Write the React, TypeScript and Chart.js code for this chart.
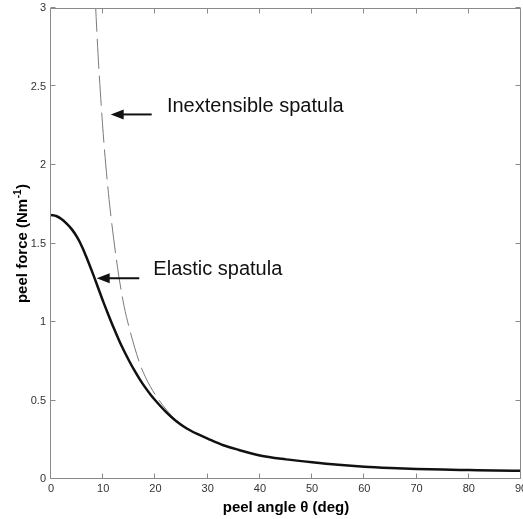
import React, { useEffect, useRef } from "react";
import { Chart, registerables } from "chart.js";

Chart.register(...registerables);

// ---- data ----
const elasticAngles = [0, 1, 2, 3, 4, 5, 6, 7, 8, 9, 10, 11, 12, 13, 14, 15, 16, 17, 18, 19, 20, 22, 24, 26, 28, 30, 33, 36, 40, 45, 50, 55, 60, 65, 70, 75, 80, 85, 90];
const elasticForce = [1.682, 1.675, 1.656, 1.627, 1.59, 1.54, 1.475, 1.395, 1.31, 1.22, 1.13, 1.045, 0.963, 0.886, 0.815, 0.75, 0.69, 0.635, 0.585, 0.54, 0.5, 0.428, 0.368, 0.322, 0.287, 0.257, 0.215, 0.185, 0.15, 0.125, 0.106, 0.09, 0.078, 0.07, 0.064, 0.06, 0.057, 0.054, 0.053];

const inextAngles = [8.5, 9, 10, 11, 12, 13, 14, 15, 16, 17, 18, 19, 20, 22, 24, 26, 28, 30];
const inextForce = [3.04, 2.71, 2.2, 1.82, 1.53, 1.29, 1.1, 0.96, 0.84, 0.735, 0.655, 0.59, 0.535, 0.445, 0.374, 0.323, 0.287, 0.256];

const xTicks = [0, 10, 20, 30, 40, 50, 60, 70, 80, 90];
const yTicks = [0, 0.5, 1, 1.5, 2, 2.5, 3];

const xTitle = "peel angle θ (deg)";
const yTitleMain = "peel force (Nm";
const yTitleSup = "-1";
const yTitleEnd = ")";

// annotations: [textX, textBaselineY, arrowStartX, arrowTipX, arrowY]
const inextLabel = "Inextensible spatula";
const inextLabelPos = [22.2, 2.335, 19.28, 11.43, 2.322];
const elasticLabel = "Elastic spatula";
const elasticLabelPos = [19.6, 1.3, 16.9, 8.75, 1.278];

const FONT = "'Liberation Sans', Arial, Helvetica, sans-serif";

const decorPlugin = {
  id: "decor",
  afterDatasetsDraw(chart: any) {
    const { ctx, chartArea: a, scales } = chart;
    const x = scales.x;
    const y = scales.y;
    ctx.save();
    // box
    ctx.strokeStyle = "#8a8a8a";
    ctx.lineWidth = 1;
    const L = Math.round(a.left) - 0.5;
    const R = Math.round(a.right) - 0.5;
    const T = Math.round(a.top) + 0.5;
    const B = Math.round(a.bottom) - 0.5;
    ctx.beginPath();
    ctx.rect(L, T, R - L, B - T);
    ctx.stroke();
    // inward ticks
    const tl = 5;
    ctx.beginPath();
    xTicks.forEach((v) => {
      const px = Math.round(x.getPixelForValue(v)) - 0.5;
      ctx.moveTo(px, B);
      ctx.lineTo(px, B - tl);
      ctx.moveTo(px, T);
      ctx.lineTo(px, T + tl);
    });
    yTicks.forEach((v) => {
      const py = Math.round(y.getPixelForValue(v)) - 0.5;
      ctx.moveTo(L, py);
      ctx.lineTo(L + tl, py);
      ctx.moveTo(R, py);
      ctx.lineTo(R - tl, py);
    });
    ctx.stroke();

    // annotations
    const drawAnn = (text: string, p: number[]) => {
      const tx = x.getPixelForValue(p[0]);
      const ty = y.getPixelForValue(p[1]);
      const ax1 = x.getPixelForValue(p[2]);
      const ax2 = x.getPixelForValue(p[3]);
      const ay = y.getPixelForValue(p[4]);
      ctx.fillStyle = "#111";
      ctx.font = `20px ${FONT}`;
      ctx.textAlign = "left";
      ctx.textBaseline = "alphabetic";
      ctx.fillText(text, tx, ty);
      ctx.strokeStyle = "#111";
      ctx.lineWidth = 2;
      ctx.beginPath();
      ctx.moveTo(ax1, ay);
      ctx.lineTo(ax2 + 10, ay);
      ctx.stroke();
      ctx.beginPath();
      ctx.moveTo(ax2, ay);
      ctx.lineTo(ax2 + 13, ay - 5);
      ctx.lineTo(ax2 + 13, ay + 5);
      ctx.closePath();
      ctx.fill();
    };
    drawAnn(inextLabel, inextLabelPos);
    drawAnn(elasticLabel, elasticLabelPos);

    // axis titles
    ctx.fillStyle = "#000";
    ctx.font = `bold 15px ${FONT}`;
    ctx.textAlign = "center";
    ctx.textBaseline = "alphabetic";
    ctx.fillText(xTitle, (a.left + a.right) / 2, 512);

    // y title, rotated, with superscript
    ctx.translate(27, (a.top + a.bottom) / 2);
    ctx.rotate(-Math.PI / 2);
    const mainFont = `bold 15px ${FONT}`;
    const supFont = `bold 10px ${FONT}`;
    ctx.font = mainFont;
    const w1 = ctx.measureText(yTitleMain).width;
    const w3 = ctx.measureText(yTitleEnd).width;
    ctx.font = supFont;
    const w2 = ctx.measureText(yTitleSup).width + 1;
    const total = w1 + w2 + w3;
    let cx = -total / 2;
    ctx.textAlign = "left";
    ctx.font = mainFont;
    ctx.fillText(yTitleMain, cx, 0);
    cx += w1;
    ctx.font = supFont;
    ctx.fillText(yTitleSup, cx + 0.5, -6);
    cx += w2;
    ctx.font = mainFont;
    ctx.fillText(yTitleEnd, cx, 0);
    ctx.restore();
  },
};

export default function App() {
  const ref = useRef<HTMLCanvasElement | null>(null);
  useEffect(() => {
    document.body.style.margin = "0";
    const canvas = ref.current;
    if (!canvas) return;
    const chart = new Chart(canvas, {
      type: "line",
      data: {
        datasets: [
          {
            label: "Elastic spatula",
            data: elasticAngles.map((a, i) => ({ x: a, y: elasticForce[i] })),
            borderColor: "#111",
            borderWidth: 2.5,
            pointRadius: 0,
            cubicInterpolationMode: "monotone",
            fill: false,
            order: 1,
          },
          {
            label: "Inextensible spatula",
            data: inextAngles.map((a, i) => ({ x: a, y: inextForce[i] })),
            borderColor: "#7a7a7a",
            borderWidth: 1,
            borderDash: [30, 7],
            pointRadius: 0,
            cubicInterpolationMode: "monotone",
            fill: false,
            order: 2,
          },
        ],
      },
      options: {
        animation: false,
        responsive: false,
        maintainAspectRatio: false,
        layout: { padding: { top: 8, right: 2, left: 0, bottom: 0 } },
        plugins: {
          legend: { display: false },
          tooltip: { enabled: false },
        },
        scales: {
          x: {
            type: "linear",
            min: 0,
            max: 90,
            grid: { display: false, drawTicks: false },
            border: { display: false },
            ticks: {
              stepSize: 10,
              padding: 3,
              color: "#333",
              font: { family: FONT, size: 11 },
              maxRotation: 0,
              autoSkip: false,
              callback: (v: any) => String(Number(v)),
            },
            afterFit: (s: any) => {
              s.height = 40;
              s.paddingLeft = 0;
              s.paddingRight = 0;
            },
          },
          y: {
            type: "linear",
            min: 0,
            max: 3,
            grid: { display: false, drawTicks: false },
            border: { display: false },
            ticks: {
              stepSize: 0.5,
              padding: 5,
              color: "#333",
              font: { family: FONT, size: 11 },
              callback: (v: any) => String(Number(v)),
            },
            afterFit: (s: any) => {
              s.width = 51;
              s.paddingTop = 0;
              s.paddingBottom = 0;
            },
          },
        },
      },
      plugins: [decorPlugin],
    });
    return () => chart.destroy();
  }, []);
  return (
    <div style={{ width: 523, height: 519, background: "#fff" }}>
      <canvas ref={ref} width={523} height={519} style={{ display: "block" }} />
    </div>
  );
}
